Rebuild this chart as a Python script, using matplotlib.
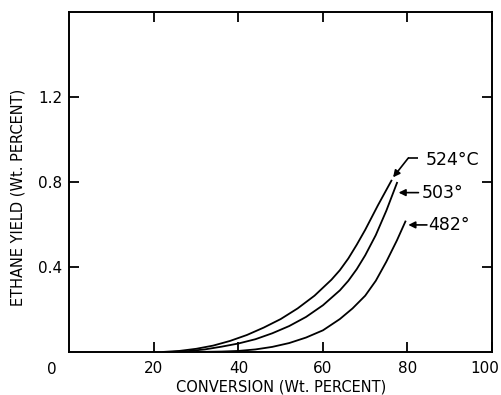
import matplotlib.pyplot as plt
from matplotlib.transforms import ScaledTranslation

# curves: conversion (wt %) vs ethane yield (wt %)
x_524 = [22, 26, 30, 34, 38, 42, 46, 50, 54, 58, 62, 64, 66, 68, 70, 73, 76.3]
y_524 = [0, 0.005, 0.015, 0.03, 0.052, 0.08, 0.115, 0.155, 0.205, 0.265, 0.34, 0.385, 0.44, 0.505, 0.575, 0.69, 0.81]

x_503 = [24, 28, 32, 36, 40, 44, 48, 52, 56, 60, 64, 66, 68, 70, 72.5, 75, 77.6]
y_503 = [0, 0.004, 0.012, 0.025, 0.04, 0.06, 0.088, 0.122, 0.165, 0.22, 0.29, 0.335, 0.39, 0.455, 0.55, 0.665, 0.80]

x_482 = [30, 36, 40, 44, 48, 52, 56, 60, 64, 67, 70, 72.5, 75, 77.5, 79.6]
y_482 = [0, 0.002, 0.005, 0.012, 0.024, 0.042, 0.068, 0.102, 0.155, 0.205, 0.265, 0.335, 0.425, 0.525, 0.618]

labels = ['524°C', '503°', '482°']
xticks = [20, 40, 60, 80, 100]
yticks = [0.4, 0.8, 1.2]

plt.rcParams['font.family'] = ['DejaVu Sans']
fig = plt.figure(figsize=(5.02, 3.95), dpi=100)
ax = fig.add_axes([0.1384, 0.1089, 0.8416, 0.8607])

for xs, ys in [(x_524, y_524), (x_503, y_503), (x_482, y_482)]:
    ax.plot(xs, ys, color='black', lw=1.3, solid_capstyle='butt', solid_joinstyle='round')

ax.set_xlim(0, 100)
ax.set_ylim(0, 1.6)
ax.set_xticks(xticks)
ax.set_xticklabels([str(t) for t in xticks])
ax.set_yticks(yticks)
ax.set_yticklabels([str(t) for t in yticks])
ax.tick_params(direction='in', length=7, width=1.3, top=True, right=True,
               labelsize=11, color='black')
ax.tick_params(axis='x', pad=6.5)
ax.tick_params(axis='y', pad=5)
for s in ax.spines.values():
    s.set_linewidth(1.4)

# "100" sits a little left of its tick in the original
lab100 = ax.get_xticklabels()[-1]
lab100.set_transform(lab100.get_transform() + ScaledTranslation(-7 / 100, 0, fig.dpi_scale_trans))

ax.text(-4.1, -0.083, '0', ha='center', va='center', fontsize=11, clip_on=False)

ax.set_xlabel('CONVERSION (Wt. PERCENT)', fontsize=10.5)
ax.xaxis.set_label_coords(0.5, -0.104)
ax.xaxis.label.set_va('center')
ax.set_ylabel('ETHANE YIELD (Wt. PERCENT)', fontsize=10.5)
ax.yaxis.set_label_coords(-0.122, 0.456)
ax.yaxis.label.set_va('center')

# curve labels with leader arrows
ax.annotate('', xy=(x_524[-1] + 0.3, y_524[-1] + 0.012), xytext=(80.2, 0.913),
            arrowprops=dict(arrowstyle='-|>', color='black', lw=1.2, mutation_scale=10,
                            shrinkA=0, shrinkB=0))
ax.plot([80.2, 82.6], [0.913, 0.913], color='black', lw=1.2, solid_capstyle='butt')
ax.text(84.3, 0.905, labels[0], ha='left', va='center', fontsize=12.5)

ax.annotate('', xy=(77.9, 0.75), xytext=(82.6, 0.75),
            arrowprops=dict(arrowstyle='-|>', color='black', lw=1.2, mutation_scale=10,
                            shrinkA=0, shrinkB=0))
ax.text(83.3, 0.748, labels[1], ha='left', va='center', fontsize=12.5)

ax.annotate('', xy=(80.2, 0.598), xytext=(84.6, 0.598),
            arrowprops=dict(arrowstyle='-|>', color='black', lw=1.2, mutation_scale=10,
                            shrinkA=0, shrinkB=0))
ax.text(84.9, 0.596, labels[2], ha='left', va='center', fontsize=12.5)

fig.savefig('out.png', dpi=100)
